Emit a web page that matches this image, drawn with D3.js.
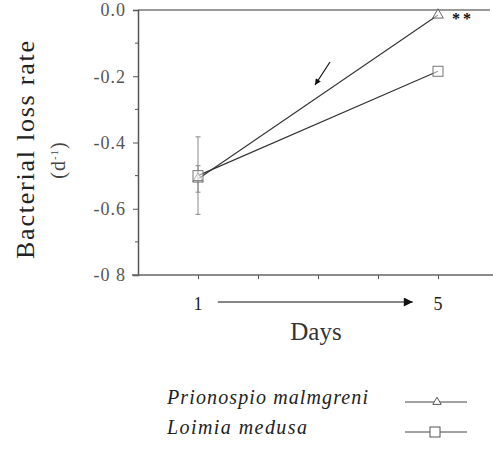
<!DOCTYPE html>
<html>
<head>
<meta charset="utf-8">
<script src="https://cdn.jsdelivr.net/npm/d3@7"></script>
<style>
  body { margin: 0; background: #fff; }
  text { font-family: "Liberation Serif", "DejaVu Serif", serif; }
</style>
</head>
<body>
<div class="chart"></div>
<script>
// data
const days = [1, 5];
const species = ['Prionospio malmgreni', 'Loimia medusa'];
const prionospio = [-0.51, -0.015];
const loimia = [-0.50, -0.185];
const prionospioErr = [0.04, 0];
const loimiaErr = [0.117, 0];
const yTicks = [0.0, -0.2, -0.4, -0.6, -0.8];
const yTickLabels = ['0.0', '-0.2', '-0.4', '-0.6', '-0 8'];
const xTicks = [1, 2, 3, 4, 5];

const svg = d3.select('.chart').append('svg')
    .attr('width', 493)
    .attr('height', 449);

// scales
const x = d3.scaleLinear().domain([0, 6]).range([138, 498]);
const y = d3.scaleLinear().domain([0, -0.8]).range([10, 275]);

const ink = '#333';

// top border
svg.append('line')
    .attr('x1', x(0)).attr('x2', 490)
    .attr('y1', y(0)).attr('y2', y(0))
    .attr('stroke', '#777').attr('stroke-width', 1.5);

// y axis
const yAxis = d3.axisLeft(y)
    .tickValues(yTicks)
    .tickFormat((d, i) => yTickLabels[i])
    .tickSize(5)
    .tickPadding(7);
const yg = svg.append('g')
    .attr('transform', `translate(${x(0)},0)`)
    .call(yAxis);
yg.attr('font-family', null);
yg.select('.domain').attr('stroke', '#555').attr('stroke-width', 1.5);
yg.selectAll('.tick line').attr('stroke', '#555');
yg.selectAll('.tick text')
    .attr('font-size', 18)
    .attr('fill', '#555')
    .attr('letter-spacing', 1)
    .style('font-family', '"Liberation Serif", serif');

// minor y ticks
svg.append('g').selectAll('line')
    .data([-0.1, -0.3, -0.5, -0.7])
    .join('line')
    .attr('x1', x(0) - 3).attr('x2', x(0))
    .attr('y1', d => y(d)).attr('y2', d => y(d))
    .attr('stroke', '#555');

// x axis
const xAxis = d3.axisBottom(x)
    .tickValues(xTicks)
    .tickFormat('')
    .tickSize(4);
const xg = svg.append('g')
    .attr('transform', `translate(0,${y(-0.8)})`)
    .call(xAxis);
xg.select('.domain').attr('stroke', '#666').attr('stroke-width', 1.5)
    .attr('d', `M${x(0) - 6},0H493`);
xg.selectAll('.tick line').attr('stroke', '#555');

// x labels 1 and 5
svg.selectAll('.xlab')
    .data(days)
    .join('text')
    .attr('class', 'xlab')
    .attr('x', d => x(d))
    .attr('y', 310)
    .attr('text-anchor', 'middle')
    .attr('font-size', 18)
    .attr('fill', '#222')
    .text(d => d);

// arrow between day labels
const defs = svg.append('defs');
defs.append('marker')
    .attr('id', 'head')
    .attr('viewBox', '0 0 10 10')
    .attr('refX', 10).attr('refY', 5)
    .attr('markerWidth', 17).attr('markerHeight', 9)
    .attr('markerUnits', 'userSpaceOnUse')
    .attr('orient', 'auto')
    .append('path').attr('d', 'M0,0L10,5L0,10Z').attr('fill', '#111');
defs.append('marker')
    .attr('id', 'head2')
    .attr('viewBox', '0 0 10 10')
    .attr('refX', 10).attr('refY', 5)
    .attr('markerWidth', 9).attr('markerHeight', 6)
    .attr('markerUnits', 'userSpaceOnUse')
    .attr('orient', 'auto')
    .append('path').attr('d', 'M0,0L10,5L0,10Z').attr('fill', '#111');

svg.append('line')
    .attr('x1', x(1.33)).attr('x2', x(4.58))
    .attr('y1', 302).attr('y2', 302)
    .attr('stroke', '#111').attr('stroke-width', 1.2)
    .attr('marker-end', 'url(#head)');

svg.append('text')
    .attr('x', 316).attr('y', 340)
    .attr('text-anchor', 'middle')
    .attr('font-size', 25)
    .attr('fill', '#333')
    .text('Days');

// y label
svg.append('text')
    .attr('transform', 'translate(34,150) rotate(-90)')
    .attr('text-anchor', 'middle')
    .attr('font-size', 26)
    .attr('fill', '#222')
    .attr('textLength', 218)
    .attr('lengthAdjust', 'spacing')
    .text('Bacterial loss rate');
const unit = svg.append('text')
    .attr('transform', 'translate(65,160) rotate(-90)')
    .attr('text-anchor', 'middle')
    .attr('font-size', 20)
    .attr('fill', '#444')
    .attr('letter-spacing', 1);
unit.append('tspan').text('(d');
unit.append('tspan').attr('font-size', 11).attr('dy', -7).text('-1');
unit.append('tspan').attr('dy', 7).text(')');

// series lines
const line = d3.line().x((d, i) => x(days[i])).y(d => y(d));
[prionospio, loimia].forEach(s => {
    svg.append('path')
        .attr('d', line(s))
        .attr('fill', 'none')
        .attr('stroke', ink)
        .attr('stroke-width', 1.1);
});

// error bars
[[loimia, loimiaErr], [prionospio, prionospioErr]].forEach(([s, e]) => {
    s.forEach((v, i) => {
        if (!e[i]) return;
        const cx = x(days[i]);
        svg.append('line')
            .attr('x1', cx).attr('x2', cx)
            .attr('y1', y(v + e[i])).attr('y2', y(v - e[i]))
            .attr('stroke', '#888');
        [v + e[i], v - e[i]].forEach(t => {
            svg.append('line')
                .attr('x1', cx - 2.5).attr('x2', cx + 2.5)
                .attr('y1', y(t)).attr('y2', y(t))
                .attr('stroke', '#888');
        });
    });
});

// markers
const tri = d3.symbol().type(d3.symbolTriangle).size(50);
svg.selectAll('.tri')
    .data(prionospio)
    .join('path')
    .attr('class', 'tri')
    .attr('transform', (d, i) => `translate(${x(days[i])},${y(d)})`)
    .attr('d', tri)
    .attr('fill', '#fff')
    .attr('fill-opacity', 0.5)
    .attr('stroke', '#666');
svg.selectAll('.sq')
    .data(loimia)
    .join('rect')
    .attr('class', 'sq')
    .attr('x', (d, i) => x(days[i]) - 5)
    .attr('y', d => y(d) - 5)
    .attr('width', 10).attr('height', 10)
    .attr('fill', '#fff')
    .attr('fill-opacity', 0.5)
    .attr('stroke', '#777');

// significance stars
svg.append('text')
    .attr('x', x(5) + 14).attr('y', y(prionospio[1]) + 9)
    .attr('font-size', 16)
    .attr('font-weight', 'bold')
    .attr('fill', '#111')
    .attr('letter-spacing', 3)
    .text('**');

// small annotation arrow
svg.append('line')
    .attr('x1', 330).attr('y1', 62)
    .attr('x2', 315).attr('y2', 85)
    .attr('stroke', '#111').attr('stroke-width', 1.2)
    .attr('marker-end', 'url(#head2)');

// legend
const legend = svg.append('g');
const legendRows = legend.selectAll('g')
    .data(species)
    .join('g')
    .attr('transform', (d, i) => `translate(0,${402 + i * 30})`);
legendRows.append('text')
    .attr('x', 167).attr('y', 2)
    .attr('font-size', 20)
    .attr('font-style', 'italic')
    .attr('fill', '#222')
    .attr('textLength', (d, i) => i === 0 ? 201 : 140)
    .attr('lengthAdjust', 'spacing')
    .text(d => d);
legendRows.append('line')
    .attr('x1', 405).attr('x2', 467)
    .attr('stroke', '#444');
legendRows.filter((d, i) => i === 0).append('path')
    .attr('transform', 'translate(437,0)')
    .attr('d', d3.symbol().type(d3.symbolTriangle).size(30))
    .attr('fill', '#fff').attr('stroke', '#555');
legendRows.filter((d, i) => i === 1).append('rect')
    .attr('x', 430).attr('y', -5)
    .attr('width', 10).attr('height', 10)
    .attr('fill', '#fff').attr('stroke', '#555');
</script>
</body>
</html>
